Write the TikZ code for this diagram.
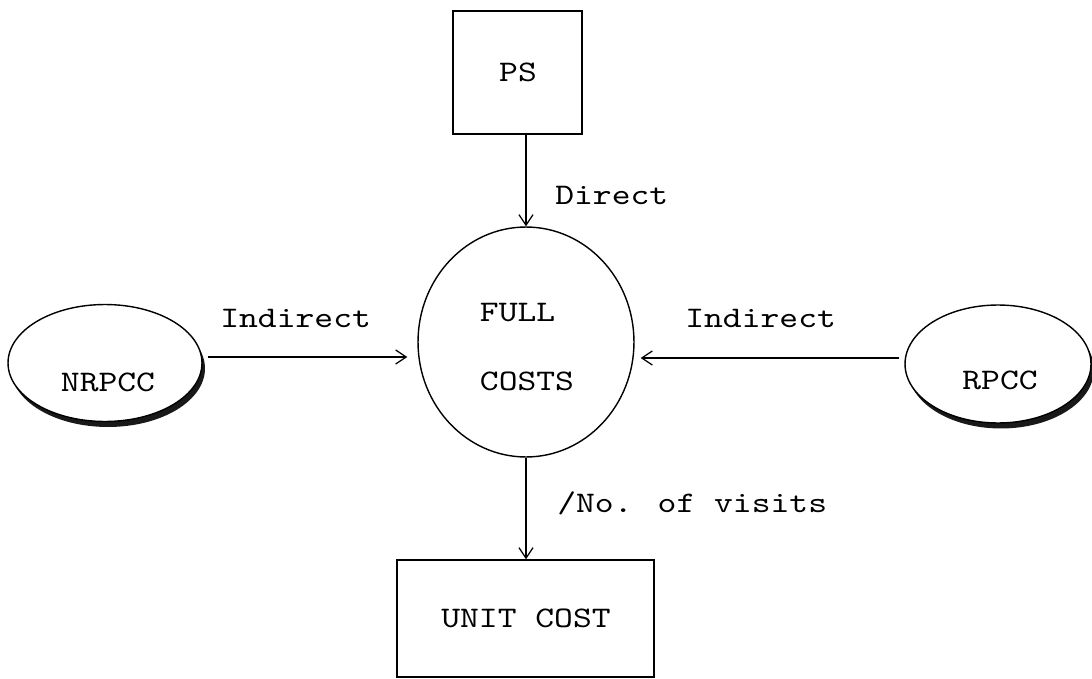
\documentclass[tikz,border=0pt]{standalone}
\usepackage{fontspec}
\newfontfamily\cour[Extension=.otf,FakeStretch=1.2]{lmmono10-regular}
\usetikzlibrary{shapes.geometric,arrows.meta,shadows}
\begin{document}
\begin{tikzpicture}[x=0.02cm,y=-0.02cm,
  every node/.style={font=\cour\fontsize{17}{20}\selectfont, inner sep=0pt},
  box/.style={draw, line width=0.8pt, rectangle},
  oval/.style={draw, line width=0.8pt, ellipse, fill=white},
  shad/.style={drop shadow={shadow xshift=0.06cm, shadow yshift=-0.11cm, opacity=0.9, fill=black}},
  arr/.style={line width=0.7pt, -{Straight Barb[length=6pt,width=8pt,line width=0.7pt]}},
  txt/.style={anchor=west}]
\useasboundingbox (0,0) rectangle (1092,679);
% main nodes
\node[box, minimum width=2.58cm, minimum height=2.46cm] (ps) at (517.5,72.5) {};
\node (pst) at (518,72) {PS};
\node[oval, minimum width=4.32cm, minimum height=4.6cm] (fc) at (526,342) {};
\node[align=left] (fct) at (527,347) {FULL\\[0.68cm]COSTS};
\node[oval, shad, minimum width=3.88cm, minimum height=2.34cm] (nr) at (105,363) {};
\node (nrt) at (108,382) {NRPCC};
\node[oval, shad, minimum width=3.72cm, minimum height=2.36cm] (rp) at (998,364) {};
\node (rpt) at (1000,380) {RPCC};
\node[box, minimum width=5.14cm, minimum height=2.34cm] (uc) at (525.5,618.5) {};
\node (uct) at (526,618) {UNIT COST};
% helper rows for horizontal arrows
\coordinate (rowl) at (0,357);
\coordinate (rowr) at (0,358);
% connectors
\draw[arr] (ps.south -| fc.north) -- (fc.north);
\draw[arr] (fc.south) -- (uc.north -| fc.south);
\draw[arr, shorten <=0.1cm, shorten >=0.2cm] (nr.east |- rowl) -- (fc.west |- rowl);
\draw[arr, shorten <=0.1cm, shorten >=0.12cm] (rp.west |- rowr) -- (fc.east |- rowr);
% labels
\node[txt] (ldir) at (555,195) {Direct};
\node[txt] (lind1) at (220,318) {Indirect};
\node[txt] (lind2) at (685,318) {Indirect};
\node[txt] (lvis) at (557,503) {/No. of visits};
\end{tikzpicture}
\end{document}
